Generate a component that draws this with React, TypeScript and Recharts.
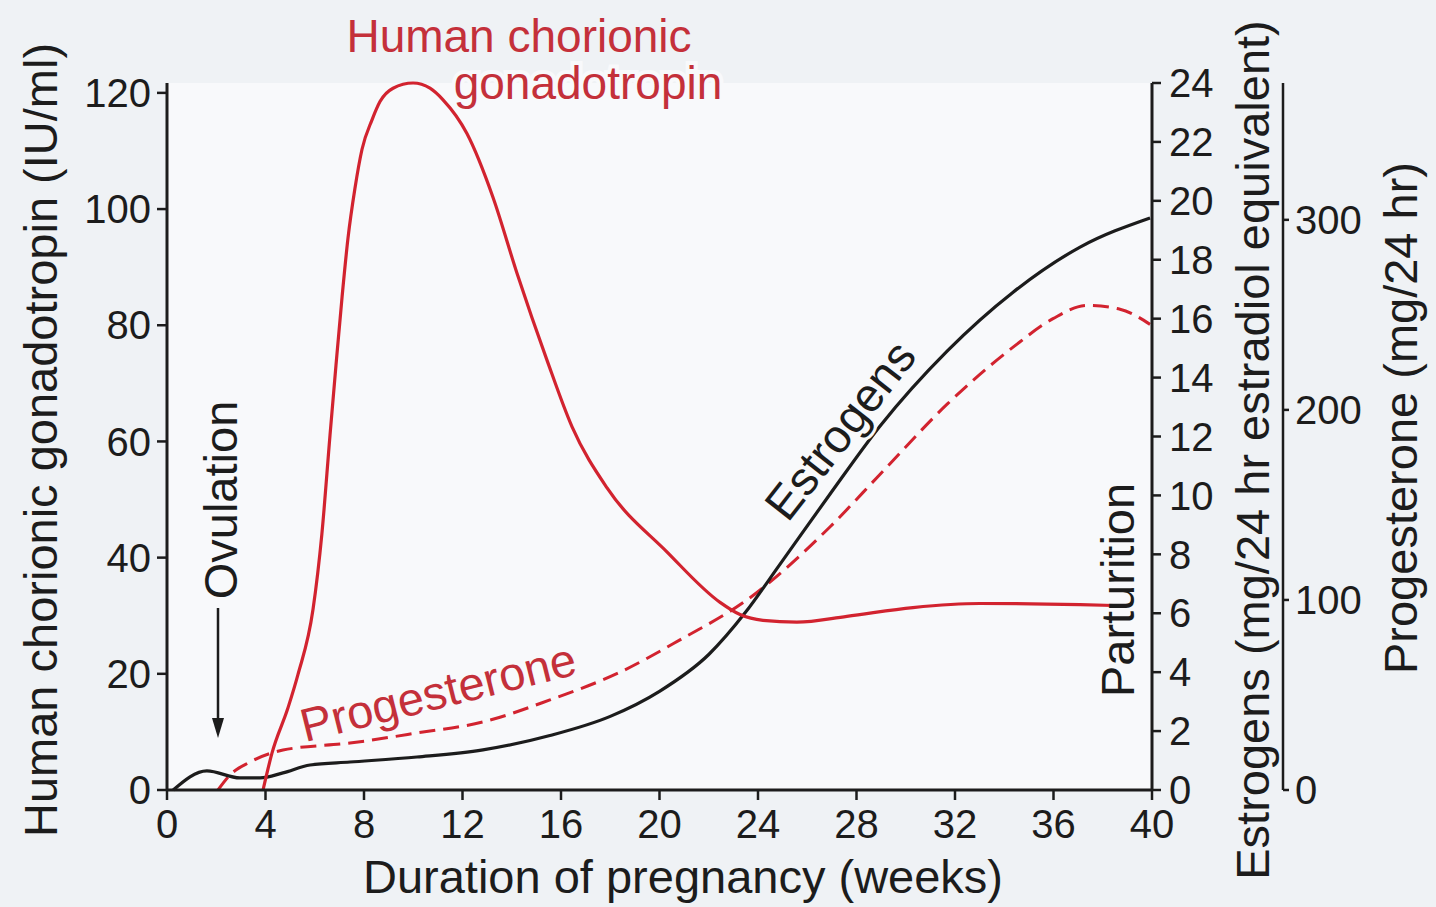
import React from "react";
import { LineChart, Line, XAxis, YAxis, CartesianGrid } from "recharts";

/* hormone levels during pregnancy */
const HCG_WEEKS = [3.9, 4.26, 4.91, 5.32, 5.93, 6.29, 6.62, 6.86, 7.11, 7.35, 7.63, 7.92, 8.33, 8.65, 9.18, 9.99, 10.68, 11.21, 12.18, 13.24, 14.21, 15.43, 16.45, 17.87, 20.3, 22.46, 23.27, 24.2, 25.58, 27.61, 30.29, 33.01, 37.08, 38.98];
const HCG_IU = [0, 6.3, 14.1, 19.9, 31.1, 44.1, 61.1, 73, 84.9, 95, 103.5, 110.3, 115.4, 118.5, 120.8, 121.7, 120.8, 118.8, 113, 102, 89, 74, 62.5, 52, 41, 32.3, 30.2, 29.2, 28.9, 29.9, 31.4, 32.1, 31.9, 31.7];

const EST_WEEKS = [0.25, 1.62, 2.96, 3.78, 4.71, 5.81, 7.43, 10.15, 12.83, 15.55, 18, 20, 22, 23.5, 24.89, 26.92, 28.95, 31.68, 34.36, 37.08, 39.92];
const EST_MG = [0, 0.65, 0.41, 0.41, 0.58, 0.85, 0.95, 1.12, 1.36, 1.85, 2.5, 3.35, 4.6, 6.04, 7.66, 10.04, 12.35, 14.9, 16.9, 18.43, 19.42];

const PROG_WEEKS = [2.07, 2.56, 3.37, 4.71, 7.43, 10.15, 12.83, 15.55, 18.4, 20.83, 23.55, 26.92, 28.95, 31.68, 34.36, 35.98, 37.36, 38.7, 39.92];
const PROG_MG = [0, 7.9, 14.7, 21, 24.7, 30, 35.8, 47.4, 62, 79, 100, 138.4, 166, 203, 233, 248, 255, 253, 245];

const WEEK_TICKS = [0, 4, 8, 12, 16, 20, 24, 28, 32, 36, 40];
const HCG_TICKS = [0, 20, 40, 60, 80, 100, 120];
const EST_TICKS = [0, 2, 4, 6, 8, 10, 12, 14, 16, 18, 20, 22, 24];
const PROG_TICKS = [0, 100, 200, 300];

const hcg = HCG_WEEKS.map((w, i) => ({ w, v: HCG_IU[i] }));
const est = EST_WEEKS.map((w, i) => ({ w, v: EST_MG[i] }));
const prog = PROG_WEEKS.map((w, i) => ({ w, v: PROG_MG[i] }));

const BG = "#eff2f5";
const PLOT = "#f8f9fb";
const RED = "#d2232f";
const RED_TXT = "#c4303a";
const INK = "#1c1c1c";
const FONT = "'Liberation Sans', Arial, Helvetica, sans-serif";

const tick = { fill: INK, fontSize: 40, fontFamily: FONT };
const axisLine = { stroke: INK, strokeWidth: 3 };
const tickLine = { stroke: INK, strokeWidth: 2.5 };

export default function App() {
  return (
    <div style={{ position: "absolute", left: 0, top: 0, width: 1436, height: 907, background: BG, fontFamily: FONT }}>
      <LineChart width={1436} height={907} margin={{ top: 83, right: 33, bottom: 57, left: 67 }}>
        <CartesianGrid fill={PLOT} stroke="none" horizontal={false} vertical={false} />
        <XAxis
          dataKey="w" type="number" domain={[0, 40]} ticks={WEEK_TICKS} allowDataOverflow
          height={60} tickSize={10} tickMargin={10} tick={tick} axisLine={axisLine} tickLine={tickLine}
        />
        <YAxis
          yAxisId="hcg" orientation="left" domain={[0, 120]} ticks={HCG_TICKS} width={100}
          tickSize={10} tickMargin={6} tick={tick} axisLine={axisLine} tickLine={tickLine}
        />
        <YAxis
          yAxisId="est" orientation="right" domain={[0, 24]} ticks={EST_TICKS} width={131} interval={0}
          tickSize={9} tickMargin={8} tick={tick} axisLine={axisLine} tickLine={tickLine}
        />
        <YAxis
          yAxisId="prog" orientation="right" domain={[0, 372]} ticks={PROG_TICKS} width={120}
          tickSize={6} tickMargin={6} tick={tick} axisLine={{ stroke: INK, strokeWidth: 2.5 }} tickLine={tickLine}
        />
        <Line data={prog} yAxisId="prog" dataKey="v" type="monotone" stroke={RED} strokeWidth={3} strokeDasharray="16 8" dot={false} isAnimationActive={false} />
        <Line data={est} yAxisId="est" dataKey="v" type="monotone" stroke={INK} strokeWidth={3.2} dot={false} isAnimationActive={false} />
        <Line data={hcg} yAxisId="hcg" dataKey="v" type="monotone" stroke={RED} strokeWidth={3.2} dot={false} isAnimationActive={false} />
      </LineChart>

      {/* annotations */}
      <svg width={1436} height={907} style={{ position: "absolute", left: 0, top: 0, pointerEvents: "none" }} fontFamily={FONT}>
        <text x={40} y={440} transform="rotate(-90 40 440)" textAnchor="middle" dominantBaseline="central" fontSize={47} fill={INK}>
          Human chorionic gonadotropin (IU/ml)
        </text>
        <text x={683} y={893} textAnchor="middle" fontSize={47} fill={INK}>
          Duration of pregnancy (weeks)
        </text>
        <text x={1252} y={450} transform="rotate(-90 1252 450)" textAnchor="middle" dominantBaseline="central" fontSize={47} fill={INK}>
          Estrogens (mg/24 hr estradiol equivalent)
        </text>
        <text x={1400} y={418} transform="rotate(-90 1400 418)" textAnchor="middle" dominantBaseline="central" fontSize={47} fill={INK}>
          Progesterone (mg/24 hr)
        </text>
        <text x={1117} y={590} transform="rotate(-90 1117 590)" textAnchor="middle" dominantBaseline="central" fontSize={47} fill={INK}>
          Parturition
        </text>
        <text x={220} y={500} transform="rotate(-90 220 500)" textAnchor="middle" dominantBaseline="central" fontSize={47} fill={INK}>
          Ovulation
        </text>
        <line x1={218} y1={608} x2={218} y2={724} stroke={INK} strokeWidth={2.5} />
        <polygon points="212,718 224,718 218,738" fill={INK} />
        <text x={840} y={430} transform="rotate(-52 840 430)" textAnchor="middle" dominantBaseline="central" fontSize={47} fill={INK}
          stroke={PLOT} strokeWidth={6} style={{ paintOrder: "stroke" }}>
          Estrogens
        </text>
        <text x={438} y={692} transform="rotate(-14 438 692)" textAnchor="middle" dominantBaseline="central" fontSize={47} fill={RED_TXT}>
          Progesterone
        </text>
        <text x={519} y={52} textAnchor="middle" fontSize={46} fill={RED_TXT}>
          Human chorionic
        </text>
        <text x={588} y={99} textAnchor="middle" fontSize={46} fill={RED_TXT}
          stroke={PLOT} strokeWidth={8} style={{ paintOrder: "stroke" }}>
          gonadotropin
        </text>
      </svg>
    </div>
  );
}
